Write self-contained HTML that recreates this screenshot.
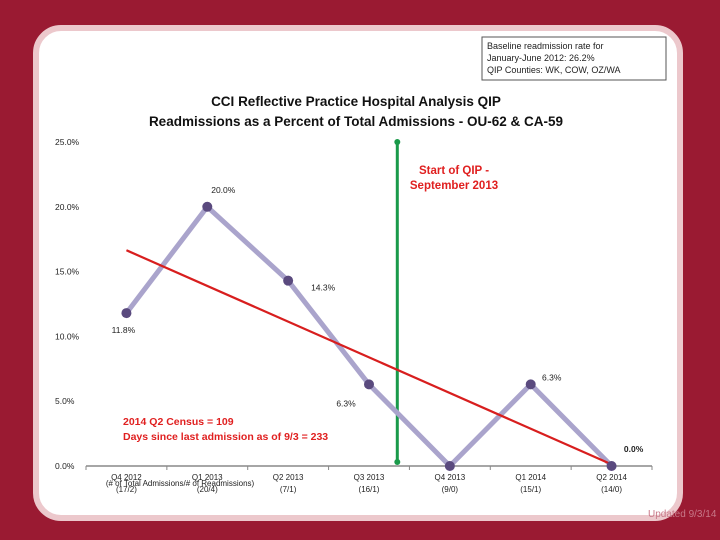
<!DOCTYPE html>
<html><head><meta charset="utf-8"><style>
body{margin:0;width:720px;height:540px;background:#9a1a32;font-family:"Liberation Sans",sans-serif;overflow:hidden;position:relative}
.card{position:absolute;left:33px;top:25px;width:638px;height:484px;background:#fff;border:6px solid #ecc8cc;border-radius:28px}
.upd{position:absolute;left:648px;top:509px;font-size:10px;color:#c87888}
</style></head><body>
<div class="card"></div>
<svg width="720" height="540" style="position:absolute;left:0;top:0" id="chart">
<rect x="482" y="37" width="184" height="43" fill="#fff" stroke="#555"/>
<text x="487" y="49" font-size="9" fill="#222"><tspan x="487">Baseline readmission rate for</tspan><tspan x="487" dy="12">January-June 2012: 26.2%</tspan><tspan x="487" dy="12">QIP Counties: WK, COW, OZ/WA</tspan></text>
<text x="356" y="106" font-size="13.5" font-weight="bold" text-anchor="middle" fill="#111">CCI Reflective Practice Hospital Analysis QIP</text>
<text x="356" y="126" font-size="13.5" font-weight="bold" text-anchor="middle" fill="#111">Readmissions as a Percent of Total Admissions - OU-62 &amp; CA-59</text>
<g id="g"></g>
<text x="454" y="174" font-size="11.5" font-weight="bold" fill="#e02020" text-anchor="middle"><tspan x="454">Start of QIP -</tspan><tspan x="454" dy="15">September 2013</tspan></text>
<text x="123" y="425" font-size="10.5" font-weight="bold" fill="#e02020"><tspan x="123">2014 Q2 Census = 109</tspan><tspan x="123" dy="15">Days since last admission as of 9/3 = 233</tspan></text>
<text x="180" y="486" font-size="8" fill="#222" text-anchor="middle">(# of Total Admissions/# of Readmissions)</text>
</svg>
<div class="upd">Updated 9/3/14</div>
<script>
const categories=["Q4 2012","Q1 2013","Q2 2013","Q3 2013","Q4 2013","Q1 2014","Q2 2014"];
const counts=["(17/2)","(20/4)","(7/1)","(16/1)","(9/0)","(15/1)","(14/0)"];
const values=[11.8,20.0,14.3,6.3,0.0,6.3,0.0];
const yTicks=[0,5,10,15,20,25];
const qipStartIndex=3.35;
const NS="http://www.w3.org/2000/svg";
const g=document.getElementById('g');
const x0=86,x1=652,yb=466,yt=142,ymax=25;
const xs=i=>x0+(x1-x0)/categories.length*(i+0.5);
const ys=v=>yb-(yb-yt)*v/ymax;
function mk(t,a){const e=document.createElementNS(NS,t);for(const k in a)e.setAttribute(k,a[k]);g.appendChild(e);return e;}
let e=mk('line',{x1:x0,x2:x1,y1:yb,y2:yb,stroke:'#888','stroke-width':1.5});

yTicks.forEach(t=>{const el=mk('text',{x:55,y:ys(t)+3,'font-size':8.5,fill:'#222'});el.textContent=t.toFixed(1)+'%';
});
for(let i=0;i<=categories.length;i++){const x=x0+(x1-x0)/categories.length*i;const t=mk('line',{x1:x,x2:x,y1:yb,y2:yb+4,stroke:'#888'});
}
categories.forEach((c,i)=>{const t=mk('text',{x:xs(i),y:480,'font-size':8,'text-anchor':'middle',fill:'#222'});t.textContent=c;

const u=mk('text',{x:xs(i),y:492,'font-size':8,'text-anchor':'middle',fill:'#222'});u.textContent=counts[i];
});
const gx=xs(0)+(xs(1)-xs(0))*qipStartIndex;
e=mk('line',{x1:gx,x2:gx,y1:ys(25),y2:yb-4,stroke:'#1a9a4a','stroke-width':3});

[ys(25),yb-4].forEach(y=>{const d=mk('circle',{cx:gx,cy:y,r:3,fill:'#1a9a4a'});});
e=mk('polyline',{points:values.map((v,i)=>xs(i)+','+ys(v)).join(' '),fill:'none',stroke:'#aaa4cc','stroke-width':5});

const n=values.length,mx=(n-1)/2,my=values.reduce((a,b)=>a+b)/n;
let sxy=0,sxx=0;values.forEach((v,i)=>{sxy+=(i-mx)*(v-my);sxx+=(i-mx)**2;});const sl=sxy/sxx;
e=mk('line',{x1:xs(0),y1:ys(my-sl*mx),x2:xs(n-1),y2:ys(my+sl*mx),stroke:'#d81e1e','stroke-width':2.2});

const lo=[[-3,20],[16,-14],[35,10],[-23,22],[0,0],[21,-4],[22,-14]];
values.forEach((v,i)=>{const c=mk('circle',{cx:xs(i),cy:ys(v),r:5,fill:'#5a4a7e'});

if(i===4)return;
const t=mk('text',{x:xs(i)+lo[i][0],y:ys(v)+lo[i][1],'font-size':8.5,'text-anchor':'middle',fill:'#222','font-weight':i===6?'bold':'normal'});
t.textContent=v.toFixed(1)+'%';});
</script>
</body></html>
